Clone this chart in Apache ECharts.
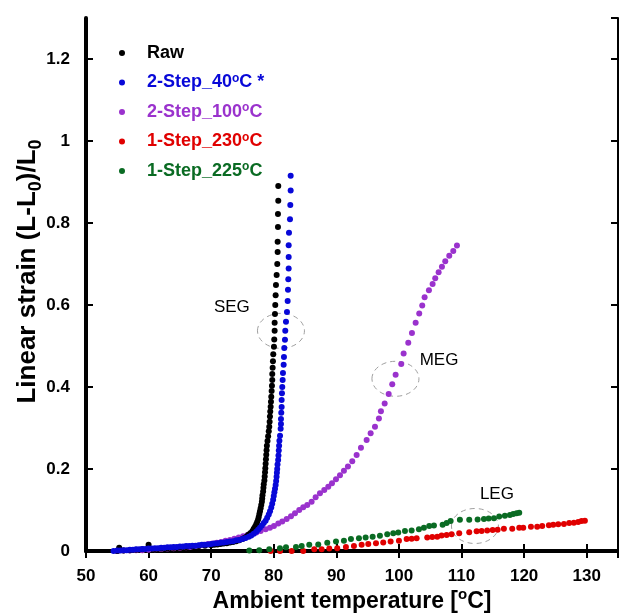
<!DOCTYPE html>
<html>
<head>
<meta charset="utf-8">
<script src="https://cdn.jsdelivr.net/npm/echarts@6/dist/echarts.min.js"></script>
<style>
  html, body { margin: 0; padding: 0; background: #fff; }
  #chart { width: 619px; height: 614px; }
</style>
</head>
<body>
<div id="chart"></div>
<script>
// [temperature °C, linear strain]
var raw = [
  [55.0,0.000],[55.3,0.008],[56,0.001],[57,0.002],[58,0.003],[59,0.004],[60.0,0.015],[61,0.005],[62,0.006],
  [63,0.007],[64,0.008],[65,0.009],[66,0.010],[67,0.011],[68,0.012],[69,0.013],[70,0.014],[70.5,0.015],
  [71,0.016],[71.5,0.017],[72,0.018],[72.5,0.019],[73,0.021],[73.5,0.022],[74,0.024],[74.5,0.026],[75,0.029],
  [75.3,0.032],[75.7,0.036],[76.0,0.040],[76.3,0.044],[76.6,0.049],[76.8,0.054],[77.0,0.059],[77.2,0.065],
  [77.35,0.071],[77.5,0.077],[77.6,0.083],[77.7,0.090],[77.8,0.097],[77.9,0.104],[78.0,0.112],[78.1,0.120],
  [78.15,0.128],[78.2,0.136],[78.3,0.145],[78.35,0.154],[78.4,0.163],[78.5,0.172],[78.55,0.182],[78.6,0.192],
  [78.65,0.202],[78.7,0.213],[78.75,0.224],[78.8,0.235],[78.85,0.246],[78.9,0.257],[79.0,0.268],[79.1,0.280],
  [79.2,0.292],[79.28,0.303],[79.34,0.315],[79.39,0.328],[79.44,0.340],[79.50,0.352],[79.55,0.364],[79.60,0.376],
  [79.66,0.390],[79.71,0.403],[79.76,0.417],[79.76,0.432],[79.82,0.447],[79.87,0.463],[79.92,0.480],[80.03,0.498],
  [80.08,0.516],[80.14,0.537],[80.14,0.557],[80.19,0.578],[80.24,0.600],[80.30,0.624],[80.35,0.649],[80.46,0.673],
  [80.56,0.700],[80.62,0.729],[80.62,0.754],[80.67,0.790],[80.67,0.822],[80.72,0.854],[80.72,0.890]
];
var step2_40 = [
  [54.4,0.000],[55,0.001],[55.5,0.001],[56,0.002],[56.5,0.002],[57,0.003],[57.5,0.003],[58,0.004],[58.5,0.004],
  [59,0.005],[59.5,0.005],[60,0.006],[60.5,0.006],[61,0.007],[61.5,0.007],[62,0.008],[62.5,0.008],[63,0.009],
  [63.5,0.009],[64,0.010],[64.5,0.010],[65,0.011],[65.5,0.011],[66,0.012],[66.5,0.012],[67,0.013],[67.5,0.013],
  [68,0.014],[68.5,0.015],[69,0.015],[69.5,0.016],[70,0.017],[70.5,0.018],[71,0.019],[71.5,0.020],[72,0.021],
  [72.5,0.022],[73,0.023],[73.5,0.024],[74,0.026],[74.5,0.027],[75,0.029],[75.5,0.032],[76,0.035],[76.4,0.038],
  [76.8,0.042],[77.2,0.047],[77.5,0.052],[77.8,0.057],[78.1,0.062],[78.4,0.068],[78.7,0.074],[78.95,0.081],
  [79.2,0.089],[79.4,0.097],[79.6,0.106],[79.75,0.115],[79.9,0.125],[80.0,0.134],[80.1,0.143],[80.2,0.152],
  [80.3,0.161],[80.38,0.171],[80.45,0.181],[80.5,0.191],[80.55,0.200],[80.6,0.211],[80.7,0.222],[80.75,0.233],
  [80.8,0.245],[80.85,0.257],[80.9,0.269],[81.0,0.281],[81.10,0.298],[81.15,0.310],[81.15,0.322],[81.20,0.337],
  [81.26,0.351],[81.26,0.368],[81.31,0.385],[81.36,0.400],[81.42,0.417],[81.47,0.434],[81.58,0.454],[81.63,0.473],
  [81.68,0.495],[81.79,0.515],[81.84,0.537],[81.95,0.559],[82.11,0.583],[82.22,0.610],[82.27,0.637],[82.32,0.663],
  [82.38,0.689],[82.38,0.717],[82.38,0.746],[82.43,0.776],[82.59,0.809],[82.64,0.844],[82.70,0.879],[82.70,0.915]
];
var step2_100 = [
  [55,0.000],[56,0.001],[57,0.001],[58,0.002],[59,0.002],[60,0.003],[61,0.004],[62,0.005],[63,0.006],[64,0.007],
  [65,0.008],[66,0.009],[66.7,0.010],[67.4,0.012],[68.1,0.013],[68.8,0.015],[69.5,0.017],[70.2,0.018],[70.9,0.020],
  [71.6,0.022],[72.3,0.025],[73.0,0.027],[73.7,0.030],[74.4,0.033],[75.1,0.036],[75.8,0.039],[76.5,0.042],
  [77.2,0.045],[77.9,0.049],[78.70,0.053],[79.39,0.057],[80.03,0.061],[80.72,0.067],[81.36,0.072],[82.06,0.078],
  [82.75,0.085],[83.39,0.092],[84.07,0.100],[84.71,0.107],[85.35,0.112],[86.05,0.120],[86.69,0.131],[87.38,0.141],
  [88.07,0.149],[88.71,0.157],[89.30,0.165],[89.94,0.175],[90.58,0.185],[91.21,0.196],[91.85,0.206],[92.54,0.219],
  [93.24,0.234],[93.93,0.252],[94.84,0.271],[95.48,0.287],[96.17,0.303],[96.80,0.323],[97.12,0.341],[97.72,0.360],
  [98.36,0.383],[98.93,0.407],[99.47,0.430],[100.37,0.456],[100.75,0.482],[101.49,0.508],[102.08,0.532],
  [102.67,0.557],[103.24,0.579],[103.72,0.599],[104.10,0.619],[104.79,0.636],[105.38,0.651],[105.80,0.665],
  [106.34,0.680],[106.87,0.693],[107.40,0.707],[108.04,0.720],[108.68,0.732],[109.27,0.745]
];
var step1_230 = [
  [79.5,0.000],[81.0,0.000],[82.86,0.000],[84.71,0.000],[86.47,0.004],[87.65,0.004],[88.87,0.006],[90.14,0.007],
  [91.53,0.010],[92.81,0.012],[94.04,0.015],[95.10,0.017],[96.33,0.019],[97.49,0.021],[98.67,0.023],[100.0,0.025],
  [101.23,0.029],[102.03,0.030],[102.83,0.031],[104.52,0.033],[105.32,0.034],[106.12,0.035],[106.82,0.038],
  [107.62,0.039],[108.42,0.041],[109.63,0.043],[111.23,0.046],[112.41,0.048],[113.21,0.049],[114.10,0.050],
  [114.97,0.051],[115.77,0.052],[116.77,0.054],[118.10,0.054],[119.22,0.057],[119.86,0.057],[121.09,0.059],
  [122.09,0.059],[122.89,0.061],[123.96,0.063],[124.65,0.064],[125.45,0.065],[126.36,0.066],[127.20,0.068],
  [127.95,0.069],[128.64,0.071],[129.18,0.073],[129.71,0.074]
];
var step1_225 = [
  [76.09,0.001],[77.68,0.002],[79.28,0.004],[80.99,0.007],[81.95,0.009],[83.55,0.010],[84.46,0.012],[85.67,0.015],
  [87.11,0.016],[88.55,0.020],[89.94,0.023],[91.21,0.025],[92.33,0.029],[93.61,0.031],[94.68,0.033],[95.80,0.035],
  [96.96,0.037],[98.13,0.041],[99.09,0.043],[99.89,0.045],[100.96,0.049],[102.03,0.050],[103.19,0.053],
  [103.99,0.057],[104.84,0.061],[105.59,0.062],[106.98,0.064],[107.62,0.068],[108.26,0.073],[109.74,0.076],
  [111.23,0.076],[112.57,0.077],[113.58,0.078],[114.33,0.079],[115.18,0.080],[116.02,0.084],[116.93,0.086],
  [117.73,0.088],[118.26,0.090],[118.80,0.092],[119.22,0.093]
];

var seriesNames = ['Raw', '2-Step_40°C *', '2-Step_100°C', '1-Step_230°C', '1-Step_225°C'];
var seriesColors = ['#000000', '#0808D8', '#9A32CD', '#E00000', '#0A6B23'];
var seriesData = [raw, step2_40, step2_100, step1_230, step1_225];
var drawOrder = [2, 3, 4, 0, 1]; // blue band ends up on top, as in the figure

// annotations, in data coordinates
var annotLabels = ['SEG', 'MEG', 'LEG'];
var annotTextAt = [[73.3, 0.595], [106.4, 0.466], [115.65, 0.139]];
var annotRingAt = [[81.15, 0.537], [99.44, 0.420], [112.14, 0.061]];

var FONT = '"Liberation Sans", Arial, sans-serif';

var chart = echarts.init(document.getElementById('chart'));

function withSup(name) {
  return name.replace('°', '{sup|o}');
}

var legendRich = {
  sup: { fontSize: 12, fontWeight: 'bold', fontFamily: FONT, lineHeight: 12, verticalAlign: 'top' }
};

var option = {
  animation: false,
  backgroundColor: '#fff',
  grid: { left: 86, right: 1, top: 18, bottom: 63, containLabel: false, outerBoundsMode: 'none' },
  legend: {
    orient: 'vertical',
    left: 114,
    top: 38,
    itemWidth: 40,
    itemHeight: 6,
    itemGap: 9.5,
    icon: 'circle',
    selectedMode: false,
    textStyle: { fontFamily: FONT, fontSize: 18, fontWeight: 'bold', lineHeight: 20, rich: legendRich },
    formatter: function (name) { return withSup(name) },
    data: seriesNames.map(function (n, i) {
      return { name: n, textStyle: { color: seriesColors[i] } }
    })
  },
  xAxis: [{
    type: 'value',
    position: 'bottom',
    min: 50,
    max: 135,
    interval: 10,
    name: 'Ambient temperature [{sup|o}C]',
    nameLocation: 'middle',
    nameGap: 36,
    nameMoveOverlap: false,
    nameTextStyle: {
      fontFamily: FONT, fontSize: 23, fontWeight: 'bold', color: '#000', lineHeight: 30,
      rich: { sup: { fontFamily: FONT, fontSize: 15, fontWeight: 'bold', color: '#000', lineHeight: 14, verticalAlign: 'top' } }
    },
    axisLine: { lineStyle: { color: '#000', width: 4 } },
    axisTick: { inside: true, length: 7, lineStyle: { color: '#000', width: 2 } },
    axisLabel: { margin: 17, showMaxLabel: false, fontFamily: FONT, fontSize: 17, fontWeight: 'bold', color: '#000' },
    splitLine: { show: false }
  }, {
    type: 'value',
    position: 'top',
    min: 50,
    max: 135,
    interval: 10,
    axisLine: { lineStyle: { color: '#000', width: 4 } },
    axisTick: { inside: true, length: 7, lineStyle: { color: '#000', width: 2 } },
    axisLabel: { show: false },
    splitLine: { show: false }
  }],
  yAxis: [{
    type: 'value',
    position: 'left',
    min: 0,
    max: 1.3,
    interval: 0.2,
    name: 'Linear strain (L-L{sub|0})/L{sub|0}',
    nameLocation: 'middle',
    nameGap: 41,
    nameMoveOverlap: false,
    nameTextStyle: {
      fontFamily: FONT, fontSize: 26, fontWeight: 'bold', color: '#000', lineHeight: 34,
      padding: [0, 0, 0, 26],
      rich: { sub: { fontFamily: FONT, fontSize: 18, fontWeight: 'bold', color: '#000', lineHeight: 16, verticalAlign: 'bottom' } }
    },
    axisLine: { lineStyle: { color: '#000', width: 4 } },
    axisTick: { inside: true, length: 7, lineStyle: { color: '#000', width: 2 } },
    axisLabel: { margin: 16, showMaxLabel: false, fontFamily: FONT, fontSize: 17, fontWeight: 'bold', color: '#000' },
    splitLine: { show: false }
  }, {
    type: 'value',
    position: 'right',
    min: 0,
    max: 1.3,
    interval: 0.2,
    axisLine: { lineStyle: { color: '#000', width: 2 } },
    axisTick: { inside: true, length: 7, lineStyle: { color: '#000', width: 2 } },
    axisLabel: { show: false },
    splitLine: { show: false }
  }],
  series: drawOrder.map(function (i) {
    return {
      name: seriesNames[i],
      type: 'scatter',
      xAxisIndex: 0,
      yAxisIndex: 0,
      symbol: 'circle',
      symbolSize: 6,
      itemStyle: { color: seriesColors[i], opacity: 1 },
      data: seriesData[i]
    }
  })
};

chart.setOption(option);

// gray dashed rings and region labels placed via the axis scales
var graphics = [];
annotLabels.forEach(function (label, i) {
  var t = chart.convertToPixel({ xAxisIndex: 0, yAxisIndex: 0 }, annotTextAt[i]);
  var r = chart.convertToPixel({ xAxisIndex: 0, yAxisIndex: 0 }, annotRingAt[i]);
  graphics.push({
    type: 'ellipse',
    shape: { cx: r[0], cy: r[1], rx: 23.5, ry: 17.5 },
    style: { fill: 'none', stroke: '#a0a0a0', lineWidth: 1, lineDash: [5, 4] },
    z: 1
  });
  graphics.push({
    type: 'text',
    x: t[0],
    y: t[1],
    style: { text: label, font: '17px ' + FONT, fill: '#000', textAlign: 'center', textVerticalAlign: 'middle' },
    z: 10
  });
});
chart.setOption({ graphic: graphics });
</script>
</body>
</html>
